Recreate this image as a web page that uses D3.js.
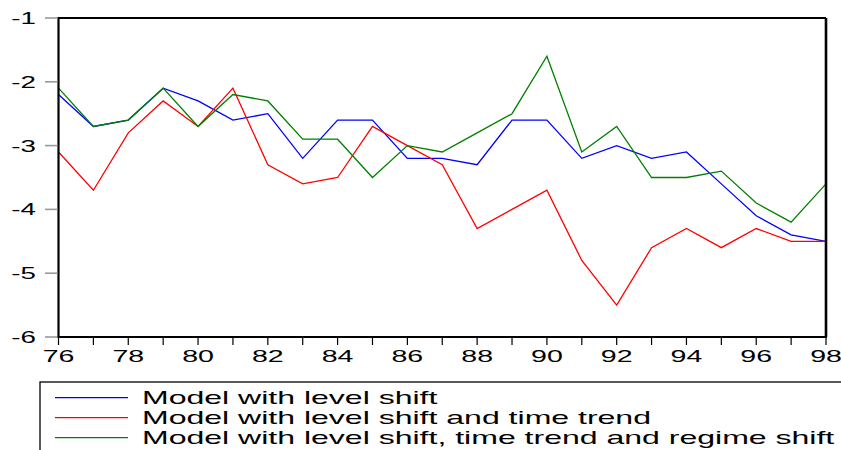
<!DOCTYPE html>
<html><head><meta charset="utf-8">
<script src="https://cdn.jsdelivr.net/npm/d3@7"></script>
<style>body{margin:0;background:#fff}svg{display:block}text{font-family:"Liberation Sans",Arial,sans-serif;fill:#000}</style>
</head><body><svg id="c" width="841" height="450"></svg>
<script>
const years = d3.range(76, 99);
const seriesNames = ["Model with level shift","Model with level shift and time trend","Model with level shift, time trend and regime shift"];
const levelShift = [-2.2,-2.7,-2.6,-2.1,-2.3,-2.6,-2.5,-3.2,-2.6,-2.6,-3.2,-3.2,-3.3,-2.6,-2.6,-3.2,-3.0,-3.2,-3.1,-3.6,-4.1,-4.4,-4.5];
const levelTrend = [-3.1,-3.7,-2.8,-2.3,-2.7,-2.1,-3.3,-3.6,-3.5,-2.7,-3.0,-3.3,-4.3,-4.0,-3.7,-4.8,-5.5,-4.6,-4.3,-4.6,-4.3,-4.5,-4.5];
const levelTrendRegime = [-2.1,-2.7,-2.6,-2.1,-2.7,-2.2,-2.3,-2.9,-2.9,-3.5,-3.0,-3.1,-2.8,-2.5,-1.6,-3.1,-2.7,-3.5,-3.5,-3.4,-3.9,-4.2,-3.6];
const yTicks = [-1,-2,-3,-4,-5,-6];
const xLabels = [76,78,80,82,84,86,88,90,92,94,96,98];
const colors = ["#0000ff","#ff0000","#008000"];
const allSeries = [levelShift, levelTrend, levelTrendRegime];

const SX = 1.68, SXL = 1.78;
const svg = d3.select("#c");
const L = 58.5, R = 826, T = 18, B = 337;
const x = d3.scaleLinear().domain([76,98]).range([L,R]);
const y = d3.scaleLinear().domain([-6,-1]).range([B,T]);

svg.append("clipPath").attr("id","cp").append("rect").attr("x",L).attr("y",T-1).attr("width",R-L).attr("height",B-T+2);
const line = d3.line().x((d,i)=>x(years[i])).y(d=>y(d));
const g = svg.append("g").attr("clip-path","url(#cp)");
allSeries.forEach((s,k)=>{
  g.append("path").attr("d",line(s)).attr("fill","none").attr("stroke",colors[k]).attr("stroke-width",1.3).attr("stroke-linejoin","miter");
});

svg.append("line").attr("x1",L).attr("x2",R).attr("y1",T).attr("y2",T).attr("stroke","#000").attr("stroke-width",1.8);
svg.append("line").attr("x1",R).attr("x2",R).attr("y1",T).attr("y2",B).attr("stroke","#000").attr("stroke-width",2.6);
svg.append("line").attr("x1",L).attr("x2",L).attr("y1",T-1).attr("y2",B+1).attr("stroke","#000").attr("stroke-width",2.2);
svg.append("line").attr("x1",L-1).attr("x2",R+1).attr("y1",B).attr("y2",B).attr("stroke","#000").attr("stroke-width",2);

yTicks.forEach(v=>{
  svg.append("line").attr("x1",45).attr("x2",L-1).attr("y1",y(v)).attr("y2",y(v)).attr("stroke","#999").attr("stroke-width",1.6);
  svg.append("text").attr("transform",`translate(36,${y(v)+6}) scale(${SX},1)`).attr("text-anchor","end").attr("font-size",16.5).text(v);
});
years.forEach(v=>{
  svg.append("line").attr("x1",x(v)).attr("x2",x(v)).attr("y1",B).attr("y2",B+8).attr("stroke","#000").attr("stroke-width",1.2);
});
xLabels.forEach(v=>{
  svg.append("text").attr("transform",`translate(${x(v)},${362}) scale(${SX},1)`).attr("text-anchor","middle").attr("font-size",17).text(v);
});

svg.append("rect").attr("x",40).attr("y",382).attr("width",840).attr("height",100).attr("fill","none").attr("stroke","#000").attr("stroke-width",1.3);
const rows = [397.7,417.7,437.7];
seriesNames.forEach((n,k)=>{
  svg.append("line").attr("x1",55).attr("x2",128).attr("y1",rows[k]).attr("y2",rows[k]).attr("stroke",colors[k]).attr("stroke-width",1.3);
  svg.append("text").attr("transform",`translate(142,${rows[k]+6.5}) scale(${SXL},1)`).attr("font-size",18).text(n);
});
</script></body></html>
